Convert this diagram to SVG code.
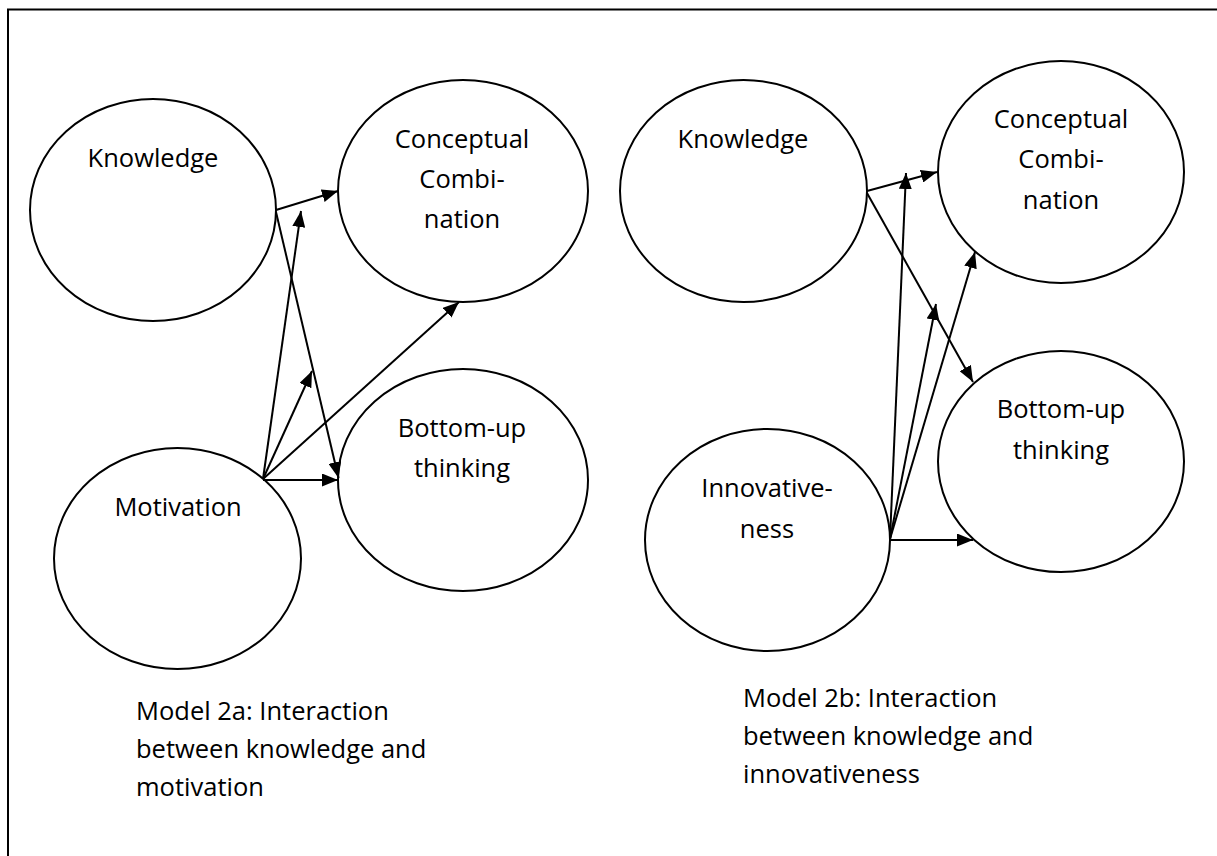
<svg xmlns="http://www.w3.org/2000/svg" width="1217" height="856" viewBox="0 0 1217 856">
  <style>
    .node { fill: #ffffff; stroke: #000000; stroke-width: 2; }
    .label { font-family: "Open Sans", "Noto Sans", "Liberation Sans", sans-serif; font-size: 25.5px; fill: #000000; text-anchor: middle; }
    .caption { font-family: "Open Sans", "Noto Sans", "Liberation Sans", sans-serif; font-size: 25.5px; fill: #000000; }
    .edge { stroke: #000000; stroke-width: 2; fill: none; marker-end: url(#arrow); }
  </style>
  <defs>
    <marker id="arrow" viewBox="0 0 16 13" refX="16" refY="6.5" markerWidth="16" markerHeight="13" markerUnits="userSpaceOnUse" orient="auto">
      <path d="M0,0 L16,6.5 L0,13 z" fill="#000000"/>
    </marker>
  </defs>

  <rect width="1217" height="856" fill="#ffffff"/>
  <!-- outer frame, runs past the right and bottom edges -->
  <rect x="8" y="9.5" width="1300" height="1000" fill="none" stroke="#000000" stroke-width="2"/>

  <!-- Model 2a -->
  <g id="a-knowledge">
    <ellipse class="node" cx="153" cy="210" rx="123" ry="111"/>
    <text class="label" x="153" y="167">Knowledge</text>
  </g>
  <g id="a-conceptual">
    <ellipse class="node" cx="463" cy="191" rx="125" ry="111"/>
    <text class="label" x="462" y="148">Conceptual</text>
    <text class="label" x="462" y="188">Combi-</text>
    <text class="label" x="462" y="228">nation</text>
  </g>
  <g id="a-bottomup">
    <ellipse class="node" cx="463" cy="480" rx="125" ry="111"/>
    <text class="label" x="462" y="437">Bottom-up</text>
    <text class="label" x="462" y="477">thinking</text>
  </g>
  <g id="a-motivation">
    <ellipse class="node" cx="177.5" cy="558.5" rx="123.5" ry="110.5"/>
    <text class="label" x="178" y="516">Motivation</text>
  </g>

  <!-- Model 2b -->
  <g id="b-knowledge">
    <ellipse class="node" cx="743.5" cy="191" rx="123.5" ry="111"/>
    <text class="label" x="743" y="148">Knowledge</text>
  </g>
  <g id="b-conceptual">
    <ellipse class="node" cx="1061" cy="172" rx="123" ry="111"/>
    <text class="label" x="1061" y="128">Conceptual</text>
    <text class="label" x="1061" y="168">Combi-</text>
    <text class="label" x="1061" y="209">nation</text>
  </g>
  <g id="b-bottomup">
    <ellipse class="node" cx="1061" cy="461.5" rx="123" ry="110.5"/>
    <text class="label" x="1061" y="418">Bottom-up</text>
    <text class="label" x="1061" y="459">thinking</text>
  </g>
  <g id="b-innovativeness">
    <ellipse class="node" cx="767.5" cy="540" rx="122.5" ry="111"/>
    <text class="label" x="767" y="497">Innovative-</text>
    <text class="label" x="767" y="538">ness</text>
  </g>

  <g id="connectors">
    <!-- 2a -->
    <line class="edge" x1="276" y1="210" x2="338" y2="191"/>
    <line class="edge" x1="276" y1="212" x2="338.5" y2="478"/>
    <line class="edge" x1="263" y1="479" x2="301" y2="211"/>
    <line class="edge" x1="263" y1="479" x2="312" y2="371"/>
    <line class="edge" x1="263" y1="479" x2="459" y2="302"/>
    <line class="edge" x1="263" y1="480" x2="338" y2="480"/>
    <!-- 2b -->
    <line class="edge" x1="867" y1="191" x2="937" y2="172"/>
    <line class="edge" x1="867" y1="193" x2="973" y2="382"/>
    <line class="edge" x1="890" y1="539" x2="906" y2="173"/>
    <line class="edge" x1="890" y1="539" x2="936" y2="304"/>
    <line class="edge" x1="890" y1="539" x2="975" y2="252"/>
    <line class="edge" x1="890" y1="540" x2="973" y2="540"/>
  </g>

  <g id="captions">
    <text class="caption" x="136" y="720">Model 2a: Interaction</text>
    <text class="caption" x="136" y="758">between knowledge and</text>
    <text class="caption" x="136" y="796">motivation</text>
    <text class="caption" x="743" y="707">Model 2b: Interaction</text>
    <text class="caption" x="743" y="745">between knowledge and</text>
    <text class="caption" x="743" y="783">innovativeness</text>
  </g>
</svg>
